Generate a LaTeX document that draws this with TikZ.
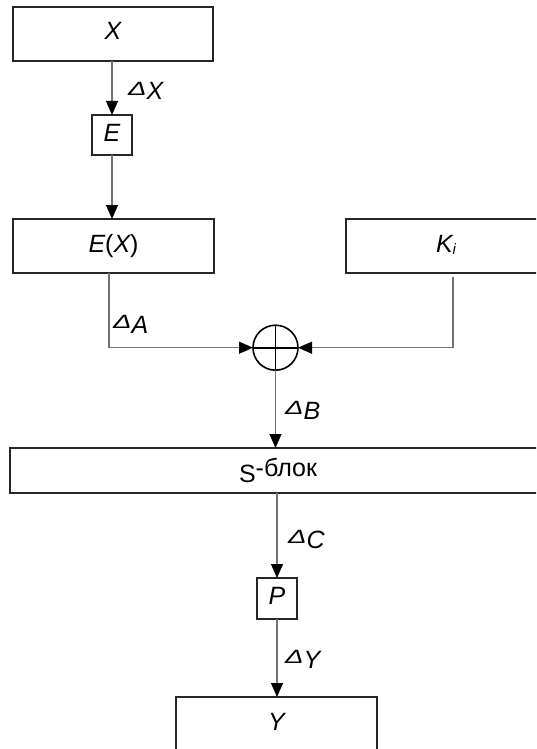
\documentclass[tikz,border=0pt]{standalone}
\usepackage{fontspec}
\setmainfont{Liberation Sans}
\usetikzlibrary{arrows.meta}
\newcommand\dlt{\raisebox{4.5pt}{\fontsize{24}{24}\selectfont\itshape\scalebox{1.15}[0.8]{Δ}}}
\begin{document}
\begin{tikzpicture}[x=1pt,y=-1pt,
  box/.style={draw=black!85, line width=1.1pt, inner sep=0pt, outer sep=0pt,
    text height=18pt, text depth=6pt,
    font=\fontsize{25}{30}\selectfont\itshape},
  conn/.style={draw=black!55, line width=1.2pt},
  arr/.style={conn, -{Triangle[length=14pt,width=12pt,color=black,fill=black]}},
  lbl/.style={inner sep=0pt, outer sep=0pt, anchor=base west,
    font=\fontsize{25}{30}\selectfont\itshape}]
\path[use as bounding box] (0,0) rectangle (536,749);
\clip (0,0) rectangle (536,749);
% boxes
\node[box, minimum width=200pt, minimum height=54pt] (X) at (113,34) {X};
\node[box, minimum width=40pt, minimum height=40pt] (E) at (112,135) {E};
\node[box, minimum width=201pt, minimum height=54pt] (EX) at (113.5,246) {E\upshape(\itshape X\upshape)};
\node[box, minimum width=200pt, minimum height=54pt] (K) at (446,246) {K{\fontsize{15}{15}\selectfont\raisebox{-2pt}{i}}};
\node[circle, draw=black, line width=1.6pt, minimum size=45pt, inner sep=0pt, outer sep=0pt] (xor) at (275.5,347.7) {};
\draw[line width=1.6pt] (xor.north) -- (xor.south) (xor.west) -- (xor.east);
\node[box, minimum width=536pt, minimum height=45pt, font=\fontsize{25}{30}\selectfont] (S) at (278,470.5) {\raisebox{-5.5pt}{S}-блок};
\node[box, minimum width=40pt, minimum height=41pt] (P) at (277,598.5) {P};
\node[box, minimum width=201pt, minimum height=54pt] (Y) at (276.5,724) {Y};
% connectors
\draw[arr] (X.south -| E.north) -- (E.north);
\draw[arr] (E.south) -- (E.south |- EX.north);
\coordinate (a0) at ([xshift=-4.5pt]EX.south);
\draw[arr] (a0) |- (xor.west);
\coordinate (k0) at (453,277);
\draw[arr] (k0) |- (xor.east);
\draw[arr] (xor.south) -- (xor.south |- S.north);
\draw[arr] (P.north |- S.south) -- (P.north);
\draw[arr] (P.south) -- (P.south |- Y.north);
% labels
\node[lbl] (lX) at (128,100) {\dlt X};
\node[lbl] (lA) at (113,333) {\dlt A};
\node[lbl] (lB) at (285,419) {\dlt B};
\node[lbl] (lC) at (288,548) {\dlt C};
\node[lbl] (lY) at (285,668) {\dlt Y};
\end{tikzpicture}
\end{document}
